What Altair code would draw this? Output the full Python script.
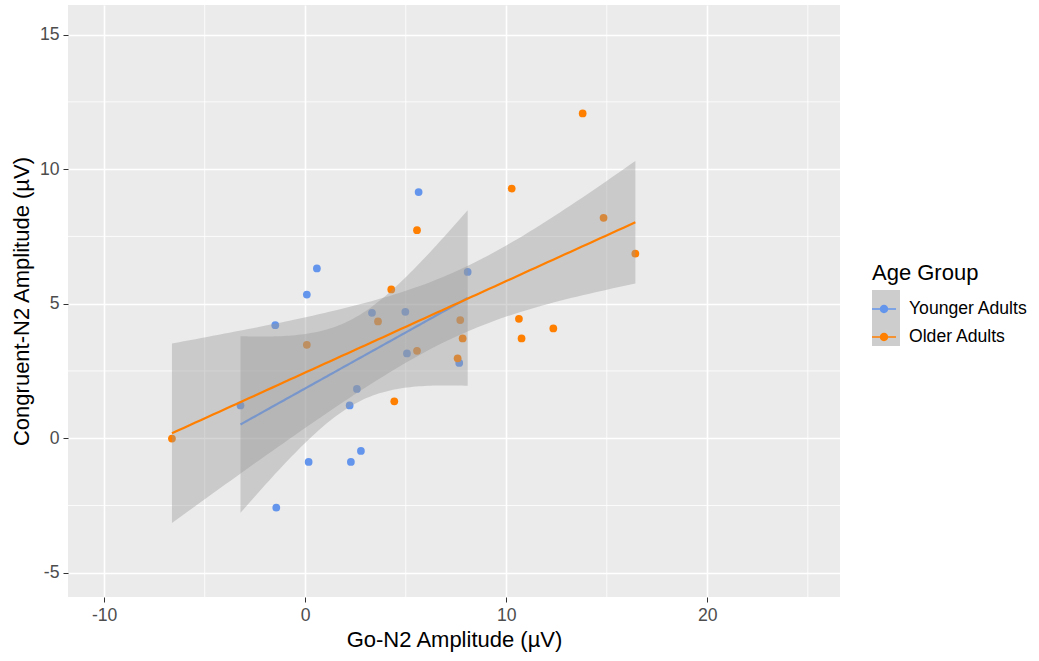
import altair as alt
import numpy as np
import pandas as pd

# Go-N2 and Congruent-N2 amplitudes (µV) per participant, by age group
young_go = [5.64, 0.58, 0.08, -1.49, 3.32, 4.98, 8.08, 5.06, 7.66, 2.57, 2.21, -3.22, 2.77, 0.17, 2.27, -1.44]
young_cong = [9.15, 6.31, 5.34, 4.20, 4.66, 4.70, 6.18, 3.15, 2.80, 1.83, 1.22, 1.22, -0.47, -0.88, -0.88, -2.58]
old_go = [5.56, 4.28, 3.62, 0.08, 7.71, 7.83, 5.56, 7.58, 4.43, -6.63, 13.80, 10.27, 14.84, 16.42, 10.63, 10.76, 12.34]
old_cong = [7.73, 5.53, 4.34, 3.47, 4.39, 3.71, 3.25, 2.97, 1.37, -0.01, 12.07, 9.28, 8.19, 6.86, 4.44, 3.71, 4.08]

groups = ["Younger Adults", "Older Adults"]
colors = ["#6495ED", "#FF7F00"]

x_major = [-10, 0, 10, 20]
x_minor = [-5, 5, 15, 25]
y_major = [-5, 0, 5, 10, 15]
y_minor = [-2.5, 2.5, 7.5, 12.5]
x_domain = [-11.8, 26.6]
y_domain = [-5.9, 16.1]

# two-sided 95% t quantiles by residual degrees of freedom
T975 = {14: 2.1448, 15: 2.1314}

FONT = "Liberation Sans"
W, H = 772, 592
PAD_L, PAD_T = 68, 5
TEXT_SIZE = 17.6
TITLE_SIZE = 22


def linear_smooth(x, y, n=80):
    """Least-squares line with a 95% confidence band, like geom_smooth(method='lm')."""
    x = np.asarray(x, float)
    y = np.asarray(y, float)
    X = np.column_stack([np.ones_like(x), x])
    beta, *_ = np.linalg.lstsq(X, y, rcond=None)
    resid = y - X @ beta
    dof = len(x) - 2
    s2 = resid @ resid / dof
    xtx_inv = np.linalg.inv(X.T @ X)
    grid = np.linspace(x.min(), x.max(), n)
    G = np.column_stack([np.ones_like(grid), grid])
    fit = G @ beta
    se = np.sqrt(s2 * np.sum((G @ xtx_inv) * G, axis=1))
    t = T975[dof]
    return grid, fit, fit - t * se, fit + t * se


points = pd.concat([
    pd.DataFrame({"go": young_go, "cong": young_cong, "group": groups[0]}),
    pd.DataFrame({"go": old_go, "cong": old_cong, "group": groups[1]}),
], ignore_index=True)

fits = {}
for g, xs, ys in [(groups[0], young_go, young_cong), (groups[1], old_go, old_cong)]:
    gx, f, lo, hi = linear_smooth(xs, ys)
    fits[g] = pd.DataFrame({"go": gx, "fit": f, "lo": lo, "hi": hi, "group": g})

xscale = alt.Scale(domain=x_domain, nice=False, zero=False)
yscale = alt.Scale(domain=y_domain, nice=False, zero=False)
cscale = alt.Scale(domain=groups, range=colors)

# plain hyphen for negative tick labels
hyphen_labels = "datum.value < 0 ? '-' + abs(datum.value) : '' + datum.value"

common_axis = dict(
    grid=True, gridColor="white", gridWidth=1.6, domain=False,
    tickColor="#333333", tickSize=5, tickWidth=1,
    labelColor="#4D4D4D", labelFontSize=TEXT_SIZE, labelFont=FONT,
    labelExpr=hyphen_labels,
    titleFont=FONT, titleFontSize=TITLE_SIZE, titleFontWeight="normal", titleColor="black",
)
x_axis = alt.Axis(values=x_major, title="Go-N2 Amplitude (µV)",
                  labelPadding=4, titlePadding=6, **common_axis)
y_axis = alt.Axis(values=y_major, title="Congruent-N2 Amplitude (µV)",
                  labelPadding=4, titlePadding=6, **common_axis)

minor_x = alt.Chart(pd.DataFrame({"v": x_minor})).mark_rule(
    color="white", strokeWidth=0.8
).encode(x=alt.X("v:Q", scale=xscale, axis=x_axis))
minor_y = alt.Chart(pd.DataFrame({"v": y_minor})).mark_rule(
    color="white", strokeWidth=0.8
).encode(y=alt.Y("v:Q", scale=yscale, axis=y_axis))

# key: a horizontal line through a dot
key_symbol = (
    "M-1,-0.07H1V0.07H-1Z "
    "M-0.35,0A0.35,0.35 0 1,1 0.35,0A0.35,0.35 0 1,1 -0.35,0Z"
)
LEG_X, LEG_Y = 804, 258
KEY_TOP = 285

dots = alt.Chart(points).mark_circle(size=60, opacity=1).encode(
    x=alt.X("go:Q", scale=xscale),
    y=alt.Y("cong:Q", scale=yscale),
    color=alt.Color(
        "group:N", scale=cscale, sort=groups,
        legend=alt.Legend(
            title="Age Group", orient="none", legendX=LEG_X, legendY=LEG_Y,
            symbolType=key_symbol, symbolSize=576, symbolStrokeWidth=0,
            symbolOpacity=1, labelFont=FONT, labelFontSize=TEXT_SIZE, labelColor="black",
            labelOffset=13, rowPadding=7, titleFont=FONT, titleFontSize=TITLE_SIZE,
            titleFontWeight="normal", titleColor="black", titlePadding=12,
        ),
    ),
)

key_bg = alt.Chart(pd.DataFrame({"k": [0]})).mark_rect(
    color="#CDCDCD", clip=False
).encode(
    x=alt.value(LEG_X), x2=alt.value(LEG_X + 28),
    y=alt.value(KEY_TOP), y2=alt.value(KEY_TOP + 56),
)

smooth_layers = []
for g, col in zip(groups, colors):
    d = fits[g]
    band = alt.Chart(d).mark_area(color="#999999", opacity=0.4, clip=True).encode(
        x=alt.X("go:Q", scale=xscale), y=alt.Y("lo:Q", scale=yscale), y2="hi:Q"
    )
    line = alt.Chart(d).mark_line(color=col, strokeWidth=2.2, clip=True).encode(
        x=alt.X("go:Q", scale=xscale), y=alt.Y("fit:Q", scale=yscale)
    )
    smooth_layers += [band, line]

chart = alt.layer(minor_x, minor_y, key_bg, dots, *smooth_layers).properties(
    width=W, height=H,
    autosize=alt.AutoSizeParams(type="none"),
    padding={"left": PAD_L, "top": PAD_T, "right": 1039 - PAD_L - W, "bottom": 661 - PAD_T - H},
    background="white",
).configure_view(fill="#EBEBEB", stroke=None)

chart.save("out.html", embed_options={"renderer": "svg", "actions": False})
